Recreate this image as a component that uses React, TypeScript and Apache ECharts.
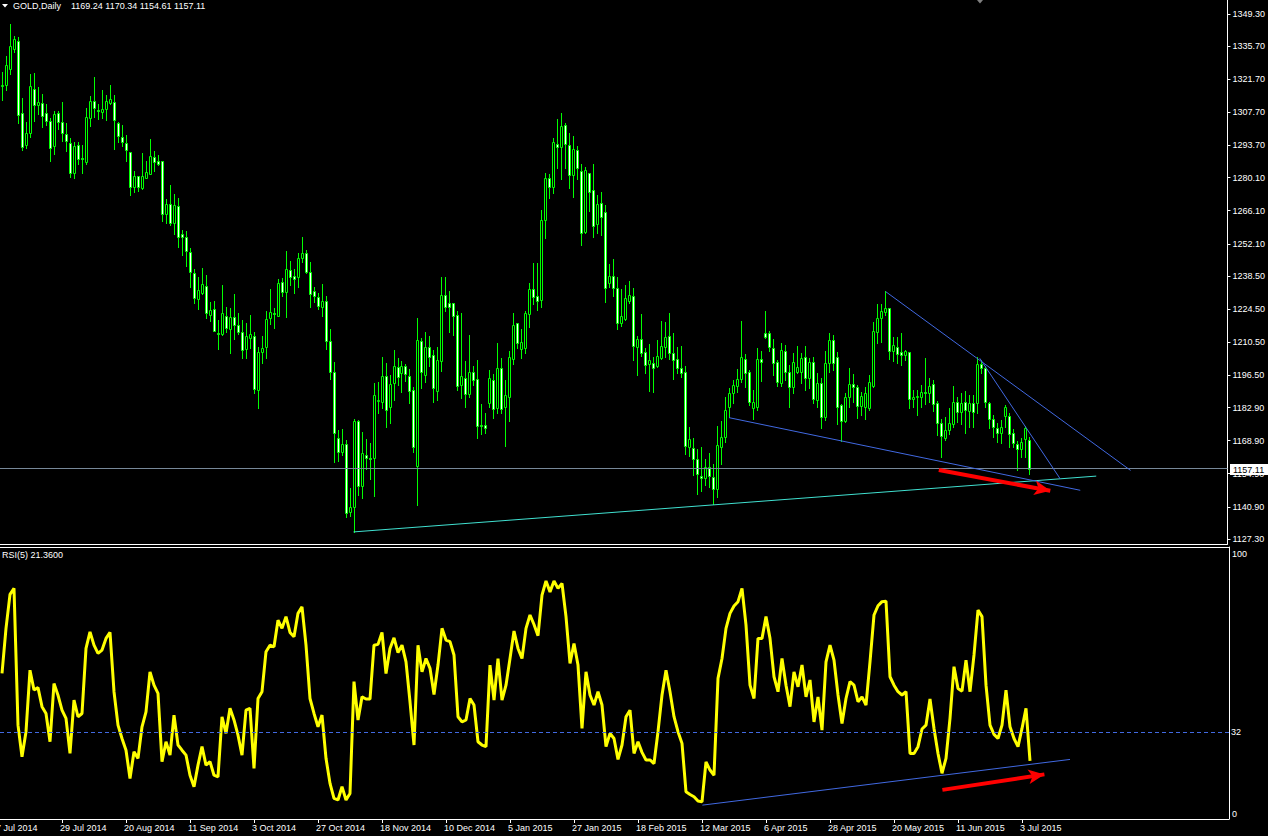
import React, { useEffect, useRef } from "react";
import * as echarts from "echarts";

const FONT = '"Liberation Sans", Arial, sans-serif';

// x-axis tick labels, one every 16 trading days starting at bar index 0 (7 Jul 2014)
const X_TICK_LABELS = [
  "7 Jul 2014", "29 Jul 2014", "20 Aug 2014", "11 Sep 2014", "3 Oct 2014", "27 Oct 2014",
  "18 Nov 2014", "10 Dec 2014", "5 Jan 2015", "27 Jan 2015", "18 Feb 2015", "12 Mar 2015",
  "6 Apr 2015", "28 Apr 2015", "20 May 2015", "11 Jun 2015", "3 Jul 2015",
];
const Y_TICKS = [
  1127.3, 1140.9, 1154.9, 1168.9, 1182.9, 1196.5, 1210.5, 1224.5, 1238.5,
  1252.1, 1266.1, 1280.1, 1293.7, 1307.7, 1321.7, 1335.7, 1349.3,
];
const RSI_LEVEL = 32;

// daily bars, bar index 1 (8 Jul 2014) .. 258 (7 Jul 2015)
const OPEN = [
  1318.8, 1319.3, 1326.0, 1334.5, 1337.9, 1307.4, 1293.9, 1299.0, 1317.6, 1310.8,
  1311.6, 1307.4, 1304.0, 1293.5, 1307.4, 1303.6, 1298.5, 1294.7, 1282.1, 1293.9,
  1288.4, 1286.7, 1305.3, 1312.5, 1308.7, 1307.8, 1309.1, 1311.6, 1312.1, 1303.2,
  1297.3, 1294.7, 1290.9, 1276.1, 1280.8, 1275.7, 1279.9, 1281.6, 1288.8, 1287.1,
  1287.1, 1264.7, 1268.9, 1260.9, 1268.1, 1256.3, 1255.0, 1248.7, 1239.8, 1228.8,
  1231.3, 1234.3, 1222.0, 1224.5, 1214.4, 1214.0, 1221.6, 1216.1, 1221.2, 1217.8,
  1214.8, 1207.6, 1212.3, 1213.1, 1190.3, 1206.4, 1208.5, 1220.7, 1222.9, 1221.6,
  1235.9, 1231.7, 1241.0, 1238.5, 1238.1, 1246.1, 1248.2, 1240.2, 1232.2, 1229.6,
  1225.4, 1227.9, 1211.0, 1197.9, 1170.0, 1164.1, 1167.5, 1138.7, 1140.8, 1177.2,
  1149.7, 1162.8, 1161.6, 1161.6, 1185.7, 1185.2, 1196.2, 1183.1, 1193.3, 1200.0,
  1197.5, 1200.5, 1196.2, 1190.3, 1158.2, 1211.0, 1196.6, 1208.5, 1205.1, 1189.9,
  1202.6, 1230.5, 1227.1, 1227.1, 1222.0, 1192.4, 1195.4, 1188.6, 1197.9, 1194.9,
  1175.5, 1175.5, 1184.8, 1194.5, 1182.7, 1199.6, 1183.1, 1187.3, 1203.4, 1218.6,
  1207.6, 1208.1, 1222.4, 1233.0, 1230.0, 1228.4, 1262.2, 1279.9, 1276.1, 1294.3,
  1293.0, 1302.3, 1293.9, 1281.2, 1291.8, 1282.9, 1257.1, 1282.1, 1274.9, 1260.5,
  1269.4, 1265.6, 1235.5, 1238.5, 1233.4, 1218.6, 1220.3, 1227.9, 1230.0, 1208.5,
  1211.9, 1206.4, 1201.3, 1201.7, 1200.5, 1203.8, 1208.5, 1213.1, 1205.9, 1203.4,
  1199.6, 1197.9, 1166.2, 1165.8, 1161.1, 1153.9, 1153.1, 1157.8, 1153.5, 1148.5,
  1166.2, 1170.4, 1183.1, 1189.0, 1192.0, 1194.9, 1203.4, 1197.9, 1182.7, 1183.1,
  1203.4, 1214.4, 1214.4, 1208.1, 1202.1, 1193.3, 1206.8, 1197.9, 1191.6, 1197.9,
  1197.9, 1204.3, 1195.4, 1202.1, 1186.1, 1193.3, 1178.9, 1201.7, 1211.4, 1204.3,
  1183.9, 1177.2, 1187.3, 1192.8, 1191.6, 1183.5, 1183.1, 1182.7, 1192.0, 1214.8,
  1220.7, 1223.3, 1225.0, 1206.8, 1208.5, 1206.4, 1205.1, 1206.4, 1186.5, 1187.3,
  1187.3, 1189.5, 1189.0, 1192.8, 1184.8, 1176.4, 1170.0, 1173.4, 1176.0, 1185.2,
  1181.0, 1185.2, 1181.4, 1184.8, 1184.8, 1201.3, 1199.6, 1184.8, 1178.0, 1174.2,
  1172.1, 1179.3, 1179.3, 1172.1, 1167.5, 1165.4, 1169.6, 1169.24,
];
const HIGH = [
  1324.8, 1331.5, 1345.1, 1340.0, 1339.6, 1313.8, 1303.6, 1323.9, 1324.3, 1318.4,
  1315.5, 1311.2, 1305.3, 1308.3, 1308.3, 1312.1, 1303.2, 1296.9, 1295.2, 1295.2,
  1293.9, 1309.5, 1314.6, 1322.6, 1311.2, 1317.1, 1315.0, 1319.3, 1315.0, 1303.6,
  1302.3, 1298.1, 1290.9, 1282.9, 1280.8, 1290.5, 1287.1, 1296.4, 1291.4, 1289.7,
  1287.1, 1271.1, 1277.0, 1273.2, 1271.5, 1257.9, 1257.5, 1250.3, 1241.5, 1238.1,
  1241.9, 1238.9, 1227.5, 1227.9, 1219.9, 1234.7, 1225.4, 1225.0, 1230.9, 1222.9,
  1219.9, 1218.6, 1222.0, 1214.8, 1208.5, 1213.1, 1223.7, 1233.0, 1225.0, 1237.2,
  1237.7, 1249.1, 1244.8, 1241.5, 1248.2, 1255.0, 1249.5, 1244.4, 1233.9, 1231.3,
  1235.1, 1230.0, 1216.1, 1202.1, 1173.4, 1173.8, 1169.2, 1148.9, 1178.0, 1177.6,
  1172.5, 1169.6, 1167.9, 1193.3, 1193.7, 1204.3, 1201.7, 1196.6, 1207.2, 1203.8,
  1202.6, 1201.3, 1199.2, 1191.6, 1220.7, 1212.3, 1214.8, 1213.1, 1207.2, 1208.5,
  1238.1, 1238.1, 1232.2, 1227.1, 1223.7, 1222.9, 1202.6, 1213.6, 1200.5, 1203.0,
  1184.4, 1180.6, 1198.8, 1197.1, 1210.2, 1203.8, 1194.5, 1206.8, 1222.9, 1218.6,
  1216.1, 1223.7, 1235.5, 1244.0, 1244.0, 1266.4, 1282.1, 1281.6, 1296.9, 1304.9,
  1307.4, 1303.2, 1299.0, 1297.7, 1293.5, 1285.9, 1284.6, 1282.1, 1285.9, 1272.8,
  1274.0, 1268.5, 1243.6, 1245.7, 1238.1, 1233.0, 1234.7, 1236.4, 1233.4, 1213.1,
  1222.4, 1208.1, 1209.8, 1204.3, 1211.4, 1219.5, 1219.1, 1222.9, 1214.4, 1208.5,
  1208.9, 1200.5, 1174.7, 1170.0, 1165.5, 1166.2, 1161.1, 1163.7, 1159.0, 1175.1,
  1177.2, 1187.3, 1191.2, 1194.5, 1199.2, 1219.5, 1205.5, 1198.8, 1190.3, 1208.1,
  1206.8, 1223.7, 1215.2, 1211.9, 1203.0, 1210.2, 1209.3, 1200.9, 1205.9, 1208.9,
  1205.9, 1208.9, 1203.8, 1204.3, 1197.5, 1195.4, 1206.8, 1214.4, 1213.6, 1206.4,
  1184.4, 1189.0, 1199.6, 1197.1, 1192.4, 1189.5, 1191.6, 1196.6, 1219.1, 1226.7,
  1226.7, 1232.2, 1225.0, 1212.7, 1212.7, 1214.4, 1207.2, 1206.4, 1190.3, 1190.3,
  1192.4, 1203.8, 1195.4, 1194.5, 1185.7, 1178.0, 1178.9, 1182.7, 1192.0, 1187.3,
  1189.0, 1189.9, 1188.2, 1188.2, 1204.3, 1203.0, 1200.5, 1185.2, 1179.7, 1176.4,
  1177.6, 1183.9, 1180.6, 1173.8, 1168.7, 1170.0, 1175.0, 1170.34,
];
const LOW = [
  1312.9, 1317.1, 1323.9, 1333.2, 1303.2, 1291.8, 1292.6, 1297.3, 1304.0, 1307.0,
  1301.5, 1302.3, 1287.1, 1290.1, 1300.7, 1295.6, 1291.4, 1280.4, 1279.9, 1285.9,
  1282.1, 1286.0, 1301.9, 1305.7, 1304.9, 1305.3, 1304.5, 1311.2, 1292.2, 1295.2,
  1293.5, 1287.1, 1272.8, 1274.0, 1274.4, 1275.3, 1279.9, 1281.6, 1282.9, 1285.4,
  1261.8, 1260.9, 1260.1, 1256.3, 1250.8, 1247.4, 1242.7, 1233.9, 1227.1, 1224.6,
  1230.9, 1220.7, 1219.5, 1215.2, 1207.6, 1213.6, 1214.8, 1205.9, 1211.9, 1214.0,
  1203.8, 1203.8, 1208.1, 1189.0, 1182.7, 1201.7, 1203.8, 1218.2, 1216.5, 1221.6,
  1230.0, 1221.2, 1234.7, 1231.3, 1233.9, 1244.4, 1239.8, 1225.4, 1227.5, 1224.6,
  1221.6, 1207.6, 1194.9, 1159.9, 1160.3, 1162.8, 1136.6, 1137.0, 1130.3, 1145.9,
  1144.6, 1156.9, 1152.7, 1145.5, 1180.6, 1182.7, 1174.7, 1176.4, 1186.1, 1192.4,
  1189.5, 1194.1, 1184.8, 1164.1, 1141.7, 1191.2, 1193.7, 1200.5, 1185.2, 1186.1,
  1198.3, 1223.7, 1214.8, 1213.6, 1190.3, 1186.9, 1183.1, 1187.3, 1192.4, 1170.0,
  1171.7, 1172.1, 1183.1, 1178.5, 1180.6, 1180.6, 1166.6, 1177.2, 1201.3, 1208.1,
  1203.8, 1205.9, 1216.9, 1226.7, 1224.1, 1225.4, 1254.6, 1271.5, 1273.6, 1284.2,
  1279.5, 1284.2, 1275.7, 1271.9, 1279.5, 1251.6, 1256.7, 1266.0, 1255.0, 1256.7,
  1255.8, 1227.5, 1233.9, 1230.0, 1216.1, 1217.4, 1219.9, 1227.1, 1203.0, 1196.6,
  1204.7, 1197.5, 1189.9, 1189.5, 1200.0, 1203.4, 1204.3, 1203.4, 1194.9, 1197.5,
  1195.8, 1163.2, 1162.4, 1154.4, 1146.3, 1147.6, 1150.1, 1149.3, 1142.1, 1145.1,
  1159.0, 1168.3, 1178.9, 1184.8, 1189.5, 1193.7, 1191.6, 1183.9, 1178.0, 1181.8,
  1194.1, 1212.3, 1206.8, 1196.6, 1192.0, 1192.0, 1194.5, 1183.1, 1189.0, 1197.5,
  1193.3, 1190.3, 1191.2, 1184.8, 1183.1, 1174.2, 1177.6, 1197.9, 1198.8, 1175.9,
  1168.7, 1176.8, 1183.1, 1185.2, 1178.5, 1179.7, 1178.0, 1181.8, 1191.6, 1210.2,
  1210.6, 1222.0, 1203.4, 1202.6, 1201.7, 1200.9, 1203.0, 1182.7, 1183.1, 1179.7,
  1183.1, 1184.4, 1185.2, 1181.4, 1171.3, 1162.0, 1169.2, 1171.7, 1174.7, 1176.8,
  1175.9, 1172.1, 1174.7, 1174.7, 1180.6, 1197.5, 1183.1, 1174.2, 1170.4, 1168.3,
  1167.9, 1174.7, 1166.2, 1166.2, 1156.5, 1162.0, 1162.0, 1154.61,
];
const CLOSE = [
  1319.3, 1327.7, 1335.8, 1338.7, 1306.6, 1293.0, 1299.0, 1318.8, 1310.8, 1312.1,
  1306.2, 1304.0, 1292.6, 1307.0, 1303.6, 1299.0, 1295.6, 1282.1, 1293.5, 1288.0,
  1288.0, 1305.7, 1312.5, 1309.5, 1308.3, 1309.1, 1312.5, 1313.3, 1304.5, 1297.7,
  1295.2, 1291.8, 1276.1, 1280.8, 1276.1, 1280.8, 1282.5, 1289.2, 1286.7, 1285.9,
  1264.7, 1268.9, 1260.9, 1268.5, 1255.0, 1255.0, 1249.1, 1240.2, 1229.2, 1232.6,
  1235.1, 1222.9, 1224.1, 1215.2, 1214.0, 1222.9, 1216.5, 1221.2, 1217.8, 1214.8,
  1207.2, 1213.1, 1214.0, 1190.7, 1206.4, 1208.1, 1220.3, 1223.3, 1222.4, 1235.5,
  1231.7, 1241.5, 1238.1, 1237.2, 1246.1, 1248.2, 1240.2, 1230.9, 1230.0, 1225.8,
  1227.9, 1211.0, 1197.9, 1172.1, 1164.1, 1167.5, 1138.3, 1140.8, 1177.2, 1149.7,
  1163.7, 1161.6, 1161.1, 1188.2, 1186.1, 1196.2, 1181.8, 1192.8, 1200.5, 1195.8,
  1200.5, 1197.1, 1189.9, 1166.2, 1211.4, 1197.9, 1208.5, 1204.3, 1191.2, 1203.0,
  1230.5, 1225.4, 1225.4, 1221.6, 1192.0, 1196.2, 1188.6, 1197.9, 1194.5, 1175.1,
  1175.1, 1174.2, 1195.4, 1182.3, 1199.6, 1182.3, 1188.2, 1204.3, 1217.8, 1210.2,
  1210.6, 1222.9, 1233.0, 1229.6, 1227.9, 1262.2, 1279.9, 1276.1, 1295.2, 1293.0,
  1301.9, 1294.3, 1281.2, 1292.2, 1284.2, 1256.7, 1283.3, 1274.0, 1259.6, 1268.9,
  1263.5, 1233.4, 1238.5, 1233.4, 1218.6, 1221.6, 1229.2, 1230.5, 1208.9, 1211.9,
  1205.9, 1200.9, 1203.0, 1199.6, 1204.7, 1208.9, 1212.7, 1205.9, 1203.0, 1199.6,
  1197.5, 1166.6, 1169.6, 1161.1, 1154.8, 1153.1, 1157.8, 1153.9, 1148.5, 1167.1,
  1170.4, 1181.8, 1189.0, 1192.4, 1194.9, 1204.3, 1197.5, 1185.2, 1185.2, 1203.4,
  1202.1, 1212.7, 1208.5, 1201.7, 1193.7, 1207.2, 1197.9, 1191.6, 1202.1, 1200.0,
  1203.8, 1195.4, 1202.1, 1186.5, 1193.3, 1178.9, 1201.7, 1211.4, 1201.7, 1183.1,
  1177.2, 1187.3, 1192.8, 1191.6, 1183.5, 1187.8, 1189.0, 1193.7, 1215.2, 1220.7,
  1223.7, 1225.0, 1206.8, 1209.3, 1205.5, 1205.1, 1206.8, 1186.5, 1187.3, 1187.8,
  1189.5, 1189.0, 1192.0, 1184.4, 1176.4, 1170.9, 1173.4, 1176.4, 1185.2, 1181.0,
  1184.8, 1181.8, 1184.8, 1181.0, 1201.3, 1199.6, 1185.2, 1178.0, 1174.7, 1172.1,
  1174.7, 1183.1, 1171.7, 1167.9, 1165.4, 1168.3, 1174.2, 1157.11,
];
const RSI5 = [
  53.5, 70.1, 82.6, 84.8, 34.5, 22.9, 32.1, 54.7, 47.4, 48.3,
  41.3, 38.8, 28.4, 49.8, 45.5, 40.0, 37.0, 24.1, 43.7, 37.6,
  38.8, 62.7, 68.8, 63.9, 60.9, 62.1, 66.4, 68.6, 46.8, 34.5,
  29.6, 25.3, 14.9, 24.7, 22.3, 33.9, 39.4, 54.1, 49.2, 46.2,
  21.1, 28.4, 23.5, 38.2, 27.2, 25.3, 23.5, 16.1, 11.9, 19.8,
  26.6, 19.8, 21.1, 16.1, 15.5, 37.6, 31.5, 40.7, 36.4, 30.8,
  23.5, 40.0, 40.7, 18.6, 44.3, 46.8, 61.5, 63.9, 63.3, 73.1,
  70.1, 74.4, 68.6, 67.0, 75.6, 78.0, 63.9, 44.3, 38.8, 33.9,
  38.2, 22.3, 13.1, 7.6, 7.0, 11.9, 7.0, 9.4, 50.5, 36.4,
  44.9, 44.1, 44.1, 63.9, 64.2, 68.6, 53.5, 62.7, 66.6, 61.2,
  63.9, 57.8, 43.1, 27.2, 63.9, 54.1, 59.0, 55.4, 45.8, 56.6,
  70.1, 65.8, 65.2, 60.3, 37.6, 35.7, 36.4, 44.3, 41.9, 28.4,
  27.2, 26.6, 56.6, 43.7, 59.0, 43.7, 49.2, 59.0, 69.1, 62.7,
  59.0, 70.1, 75.0, 71.5, 67.4, 82.3, 87.5, 83.5, 87.5, 84.8,
  86.6, 74.4, 57.2, 64.5, 56.6, 33.3, 54.1, 45.6, 41.9, 46.8,
  41.9, 26.6, 31.5, 29.6, 21.9, 27.2, 37.6, 40.0, 24.1, 28.4,
  24.5, 21.7, 21.7, 20.4, 32.1, 45.6, 54.7, 46.8, 37.6, 32.1,
  27.8, 10.0, 9.0, 8.2, 6.6, 6.3, 21.0, 18.0, 16.1, 51.7,
  59.0, 70.1, 75.6, 78.3, 79.9, 84.8, 71.3, 49.2, 44.3, 66.4,
  66.4, 74.4, 66.4, 52.3, 46.8, 59.0, 49.2, 41.3, 54.1, 48.6,
  56.6, 44.9, 51.1, 35.7, 44.9, 32.7, 57.8, 63.9, 58.4, 45.6,
  35.1, 44.3, 50.5, 49.2, 43.1, 44.9, 41.9, 57.8, 75.0, 78.4,
  79.9, 80.1, 52.3, 49.2, 46.8, 45.6, 46.8, 24.1, 24.1, 26.6,
  33.1, 34.5, 44.1, 33.3, 24.1, 16.8, 22.3, 37.0, 56.0, 48.0,
  47.0, 58.4, 46.8, 60.3, 76.8, 74.4, 49.2, 34.5, 31.1, 29.6,
  34.5, 47.4, 33.9, 29.6, 26.6, 33.3, 40.7, 21.36,
];

// drawn objects: [barIndex1, value1, barIndex2, value2]
const SUPPORT_LINE = [89, 1130.3, 274.9, 1153.9];
const WEDGE_LOWER = [183, 1178.6, 270.9, 1147.9];
const WEDGE_UPPER = [222.2, 1231.9, 283.5, 1156.3];
const WEDGE_INNER = [245.75, 1203.7, 265.9, 1152.7];
const PRICE_ARROW = [235.5, 1156.5, 263.4, 1147.7];
const RSI_TREND = [176.1, 5.1, 268, 21.9];
const RSI_ARROW = [236.1, 10.7, 261.6, 16.4];

const GREEN = "#00ff00";
const BLUE = "#4169e1";
const TEAL = "#40e0d0";
const RED = "#ff0000";
const WHITE = "#ffffff";

function seg(a: number[], style: any, endSymbol?: any) {
  return [
    { coord: [a[0], a[1]], lineStyle: style, symbol: "none" },
    endSymbol ? { coord: [a[2], a[3]], ...endSymbol } : { coord: [a[2], a[3]], symbol: "none" },
  ];
}

export default function App() {
  const ref = useRef<HTMLDivElement>(null);

  useEffect(() => {
    if (!ref.current) return;
    const chart = echarts.init(ref.current, null, { renderer: "svg", width: 1268, height: 836 });
    const n = CLOSE.length;
    const bars = CLOSE.map((c, k) => [k + 1, OPEN[k], c, LOW[k], HIGH[k]]);
    const rsi = RSI5.map((v, k) => [k + 1, v]);
    const xTickIdx = X_TICK_LABELS.map((_, k) => k * 16).filter((v) => v > 0);
    const lastO = OPEN[n - 1], lastH = HIGH[n - 1], lastL = LOW[n - 1], lastC = CLOSE[n - 1];
    const lastRsi = RSI5[n - 1];
    const X_MIN = 0.5;
    const X_MAX = 307.75;

    const option: any = {
      backgroundColor: "#000000",
      animation: false,
      textStyle: { fontFamily: FONT, fontSize: 9, color: WHITE },
      grid: [
        { left: 0, top: 0, width: 1229, height: 544 },
        { left: 0, top: 547, width: 1229, height: 272 },
      ],
      xAxis: [
        {
          type: "value", gridIndex: 0, min: X_MIN, max: X_MAX,
          axisLine: { show: true, onZero: false, lineStyle: { color: WHITE, width: 1 } },
          axisTick: { show: false }, axisLabel: { show: false }, splitLine: { show: false },
        },
        {
          type: "value", gridIndex: 1, min: X_MIN, max: X_MAX,
          axisLine: { show: true, onZero: false, lineStyle: { color: WHITE, width: 1 } },
          splitLine: { show: false },
          axisTick: { show: true, customValues: xTickIdx, length: 4, lineStyle: { color: WHITE } },
          axisLabel: {
            customValues: xTickIdx.map((v) => v - 0.5),
            formatter: (v: number) => X_TICK_LABELS[Math.round((v + 0.5) / 16)] || "",
            color: WHITE, fontSize: 9, fontFamily: FONT, align: "left", margin: 4,
          },
        },
      ],
      yAxis: [
        {
          type: "value", gridIndex: 0, position: "right", min: 1125.19, max: 1355.21,
          axisLine: { show: true, onZero: false, lineStyle: { color: WHITE, width: 1 } },
          splitLine: { show: false },
          axisTick: { show: true, customValues: Y_TICKS, length: 3, lineStyle: { color: WHITE } },
          axisLabel: {
            customValues: Y_TICKS, formatter: (v: number) => v.toFixed(2),
            color: WHITE, fontSize: 9, fontFamily: FONT, margin: 5,
          },
        },
        {
          type: "value", gridIndex: 1, position: "right", min: 0, max: 100,
          axisLine: { show: true, onZero: false, lineStyle: { color: WHITE, width: 1 } },
          splitLine: { show: false }, axisTick: { show: false },
          axisLabel: { customValues: [RSI_LEVEL], formatter: (v: number) => String(v), color: WHITE, fontSize: 9, fontFamily: FONT, margin: 2 },
        },
      ],
      series: [
        {
          type: "custom", name: "GOLD", xAxisIndex: 0, yAxisIndex: 0, clip: true,
          dimensions: ["i", "open", "close", "low", "high"],
          encode: { x: 0, y: [1, 2, 3, 4] },
          data: bars,
          renderItem: (params: any, api: any) => {
            const i = api.value(0), o = api.value(1), c = api.value(2), l = api.value(3), h = api.value(4);
            const pO = api.coord([i, o]), pC = api.coord([i, c]), pL = api.coord([i, l]), pH = api.coord([i, h]);
            const x = Math.round(pO[0]) + 0.5;
            const top = Math.round(Math.min(pO[1], pC[1])) + 0.5;
            const bot = Math.round(Math.max(pO[1], pC[1])) + 0.5;
            const children: any[] = [
              { type: "line", shape: { x1: x, y1: Math.round(pH[1]), x2: x, y2: Math.round(pL[1]) + 1 }, style: { stroke: GREEN, lineWidth: 1 } },
            ];
            if (bot - top < 1) {
              children.push({ type: "line", shape: { x1: x - 1.5, y1: top, x2: x + 1.5, y2: top }, style: { stroke: GREEN, lineWidth: 1 } });
            } else {
              children.push({ type: "rect", shape: { x: x - 1, y: top, width: 2, height: bot - top }, style: { fill: c < o ? WHITE : "#000000", stroke: GREEN, lineWidth: 1 } });
            }
            return { type: "group", children };
          },
          markLine: {
            silent: true, symbol: ["none", "none"], label: { show: false }, emphasis: { disabled: true },
            data: [
              { yAxis: lastC, lineStyle: { color: "#778899", width: 1, type: "solid" } },
              seg(SUPPORT_LINE, { color: TEAL, width: 1, type: "solid" }),
              seg(WEDGE_LOWER, { color: BLUE, width: 1, type: "solid" }),
              seg(WEDGE_UPPER, { color: BLUE, width: 1, type: "solid" }),
              seg(WEDGE_INNER, { color: BLUE, width: 1, type: "solid" }),
              seg(PRICE_ARROW, { color: RED, width: 4, type: "solid" }, { symbol: "arrow", symbolSize: [11, 16] }),
            ],
          },
        },
        {
          type: "line", name: "RSI(5)", xAxisIndex: 1, yAxisIndex: 1, data: rsi,
          showSymbol: false, symbol: "none", clip: true,
          lineStyle: { color: "#ffff00", width: 3 },
          markLine: {
            silent: true, symbol: ["none", "none"], label: { show: false }, emphasis: { disabled: true },
            data: [
              { yAxis: RSI_LEVEL, lineStyle: { color: BLUE, width: 1, type: [4, 3] } },
              seg(RSI_TREND, { color: BLUE, width: 1, type: "solid" }),
              seg(RSI_ARROW, { color: RED, width: 4, type: "solid" }, { symbol: "arrow", symbolSize: [11, 16] }),
            ],
          },
        },
      ],
    };
    chart.setOption(option);

    const yPrice = chart.convertToPixel({ yAxisIndex: 0 } as any, lastC) as number;
    const y100 = chart.convertToPixel({ yAxisIndex: 1 } as any, 100) as number;
    const y0 = chart.convertToPixel({ yAxisIndex: 1 } as any, 0) as number;
    const xFirstLabel = chart.convertToPixel({ xAxisIndex: 1 } as any, -0.5) as number;
    const font = `9px ${FONT}`;
    chart.setOption({
      graphic: [
        { type: "polygon", shape: { points: [[2, 4], [8, 4], [5, 7.5]] }, style: { fill: WHITE }, z: 100 },
        { type: "text", x: 13, y: 5.5, style: { text: "GOLD,Daily", fill: WHITE, font, verticalAlign: "middle" }, z: 100 },
        {
          type: "text", x: 71, y: 5.5,
          style: { text: `${lastO.toFixed(2)} ${lastH.toFixed(2)} ${lastL.toFixed(2)} ${lastC.toFixed(2)}`, fill: WHITE, font, verticalAlign: "middle" }, z: 100,
        },
        { type: "polygon", shape: { points: [[977, 0], [983, 0], [980, 3.5]] }, style: { fill: "#808080" }, z: 100 },
        { type: "line", shape: { x1: 0, y1: 547.5, x2: 1229, y2: 547.5 }, style: { stroke: WHITE, lineWidth: 1 }, z: 100 },
        { type: "text", x: 2, y: 555, style: { text: `RSI(5) ${lastRsi.toFixed(4)}`, fill: WHITE, font, verticalAlign: "middle" }, z: 100 },
        { type: "text", x: xFirstLabel, y: 823, style: { text: X_TICK_LABELS[0], fill: WHITE, font, verticalAlign: "top" }, z: 100 },
        { type: "rect", shape: { x: 1230, y: Math.round(yPrice) - 5, width: 38, height: 11 }, style: { fill: WHITE }, z: 100 },
        { type: "text", x: 1233, y: Math.round(yPrice) + 0.5, style: { text: lastC.toFixed(2), fill: "#000000", font, verticalAlign: "middle" }, z: 101 },
        { type: "text", x: 1232, y: y100 + 2, style: { text: "100", fill: WHITE, font, verticalAlign: "top" }, z: 100 },
        { type: "text", x: 1232, y: y0 - 1, style: { text: "0", fill: WHITE, font, verticalAlign: "bottom" }, z: 100 },
      ],
    });

    return () => chart.dispose();
  }, []);

  return (
    <div
      ref={ref}
      style={{ position: "fixed", left: 0, top: 0, width: 1268, height: 836, background: "#000000" }}
    />
  );
}
